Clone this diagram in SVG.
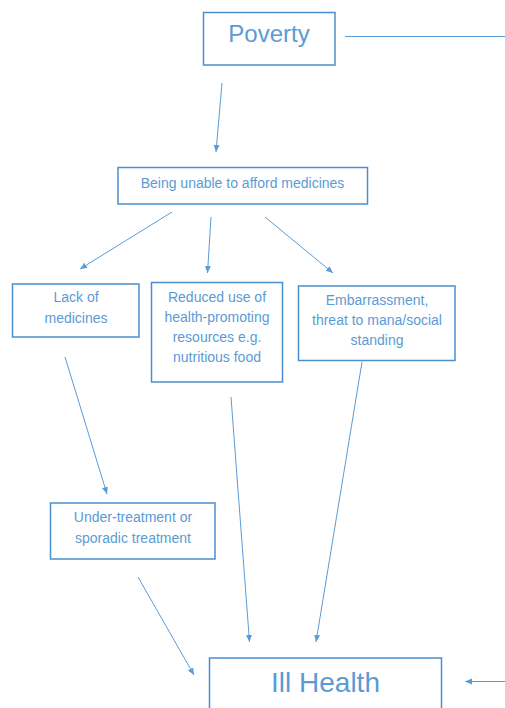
<svg xmlns="http://www.w3.org/2000/svg" width="505" height="708" viewBox="0 0 505 708">
<style>
.box{fill:#fff;stroke:#4a8fd0;stroke-width:1.5}
.t{font-family:"Liberation Sans",Arial,sans-serif;fill:#5b9bd5;text-anchor:middle}
.s{font-size:14px}
.c{stroke:#5b9bd5;stroke-width:1;fill:none}
</style>
<defs>
<marker id="ah" markerUnits="userSpaceOnUse" markerWidth="8" markerHeight="8" refX="7" refY="3" orient="auto">
<path d="M0,0 L7,3 L0,6 z" fill="#5b9bd5"/>
</marker>
</defs>
<rect width="505" height="708" fill="#fff"/>
<g id="connectors">
<line class="c" x1="345" y1="36.5" x2="505" y2="36.5"/>
<line class="c" x1="222" y1="83" x2="216" y2="152" marker-end="url(#ah)"/>
<line class="c" x1="172" y1="212" x2="80" y2="269" marker-end="url(#ah)"/>
<line class="c" x1="211" y1="217" x2="207.5" y2="273" marker-end="url(#ah)"/>
<line class="c" x1="265" y1="217" x2="333" y2="273" marker-end="url(#ah)"/>
<line class="c" x1="65" y1="357" x2="107" y2="494" marker-end="url(#ah)"/>
<line class="c" x1="231" y1="397" x2="249.5" y2="642" marker-end="url(#ah)"/>
<line class="c" x1="362" y1="362" x2="316" y2="642" marker-end="url(#ah)"/>
<line class="c" x1="138" y1="577" x2="194" y2="675" marker-end="url(#ah)"/>
<line class="c" x1="505" y1="681.5" x2="465" y2="681.5" marker-end="url(#ah)"/>
</g>
<g id="poverty">
<rect class="box" x="203.5" y="12.5" width="131.5" height="52.5"/>
<text class="t" x="269" y="42" font-size="24">Poverty</text>
</g>
<g id="unable">
<rect class="box" x="118" y="167.5" width="249.5" height="36.5"/>
<text class="t s" x="242.5" y="187.5">Being unable to afford medicines</text>
</g>
<g id="lack">
<rect class="box" x="12.5" y="284" width="126.5" height="53"/>
<text class="t s" x="76" y="302">Lack of</text>
<text class="t s" x="76" y="323">medicines</text>
</g>
<g id="reduced">
<rect class="box" x="151.5" y="282.5" width="131" height="99.5"/>
<text class="t s" x="217" y="301.5">Reduced use of</text>
<text class="t s" x="217" y="321.5">health-promoting</text>
<text class="t s" x="217" y="341.5">resources e.g.</text>
<text class="t s" x="217" y="361.5">nutritious food</text>
</g>
<g id="embarrassment">
<rect class="box" x="298.5" y="286" width="156.5" height="74.5"/>
<text class="t s" x="377" y="304.5">Embarrassment,</text>
<text class="t s" x="377" y="324.5">threat to mana/social</text>
<text class="t s" x="377" y="345">standing</text>
</g>
<g id="undertreatment">
<rect class="box" x="50.5" y="503" width="164.5" height="56"/>
<text class="t s" x="133" y="522">Under-treatment or</text>
<text class="t s" x="133" y="542.5">sporadic treatment</text>
</g>
<g id="illhealth">
<rect class="box" x="209.5" y="658" width="232" height="60"/>
<text class="t" x="325.5" y="692" font-size="28">Ill Health</text>
</g>
</svg>
